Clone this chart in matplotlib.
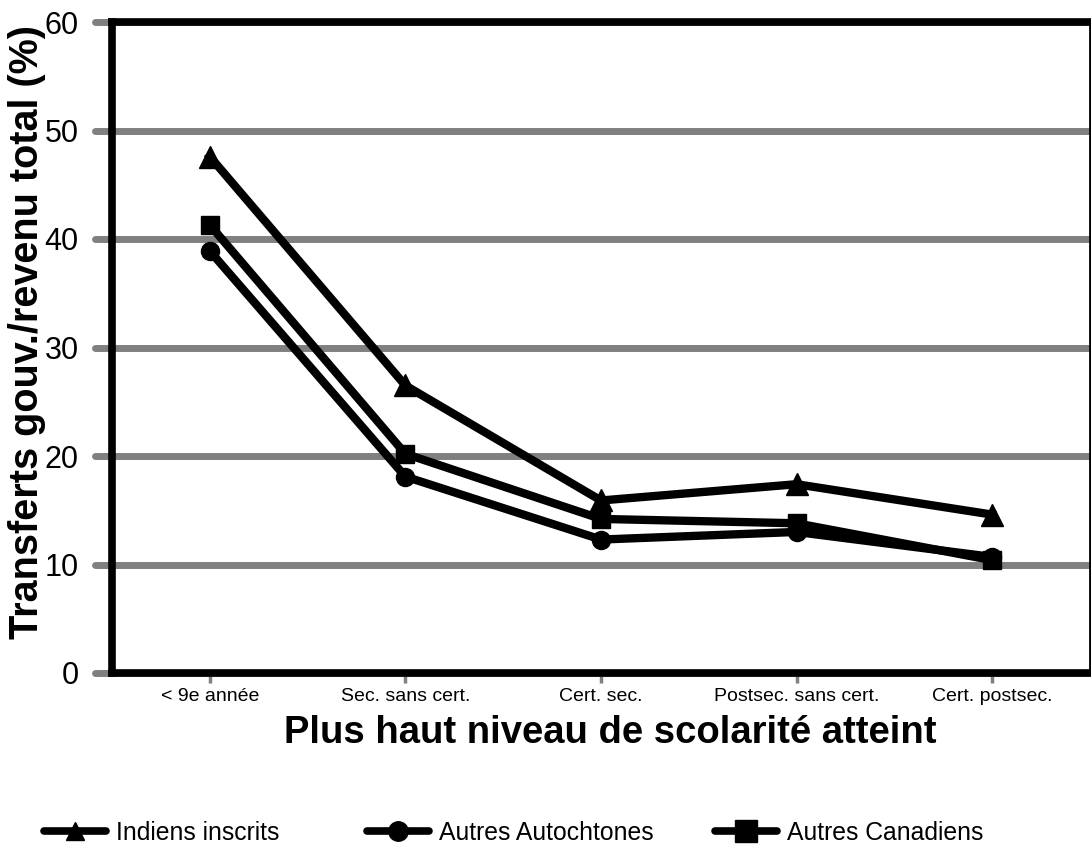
import matplotlib.pyplot as plt
from matplotlib.lines import Line2D

plt.rcParams['font.family'] = ['Liberation Sans', 'DejaVu Sans']

categories = ['< 9e année', 'Sec. sans cert.', 'Cert. sec.', 'Postsec. sans cert.', 'Cert. postsec.']
indiens = [47.6, 26.5, 15.9, 17.4, 14.6]
autochtones = [38.9, 18.1, 12.3, 13.0, 10.7]
canadiens = [41.3, 20.2, 14.2, 13.8, 10.4]
series_names = ['Indiens inscrits', 'Autres Autochtones', 'Autres Canadiens']
yticks = [0, 10, 20, 30, 40, 50, 60]

fig = plt.figure(figsize=(10.91, 8.48), dpi=100)
ax = fig.add_axes([112 / 1091, 1 - 673 / 848, 1 - 112 / 1091 - 0.001, (673 - 22) / 848])

x = list(range(len(categories)))

# gray gridlines that stick out past the left spine
for yv in yticks:
    ax.axhline(yv, xmin=-0.0175, xmax=1, color='#808080', lw=5, solid_capstyle='round',
               clip_on=False, zorder=1)

lw = 6
ax.plot(x, indiens, color='black', lw=lw, marker='^', ms=16, zorder=3)
ax.plot(x, autochtones, color='black', lw=lw, marker='o', ms=13, zorder=3)
ax.plot(x, canadiens, color='black', lw=lw, marker='s', ms=13, zorder=3)

ax.set_xlim(-0.5, 4.5)
ax.set_ylim(0, 60)
ax.set_yticks(yticks)
ax.set_xticks(x)
ax.set_xticklabels(categories, fontsize=14)
ax.tick_params(axis='y', length=0, pad=24, labelsize=22)
ax.tick_params(axis='x', length=7, width=2.5, color='#808080', pad=4)

for s in ['left', 'bottom', 'top', 'right']:
    ax.spines[s].set_linewidth(5.5)
    ax.spines[s].set_zorder(2)
ax.spines['right'].set_linewidth(2)

fig.text(27 / 1091, 1 - 332 / 848, 'Transferts gouv./revenu total (%)', rotation=90,
         ha='center', va='center', fontsize=28.5, fontweight='bold')
fig.text(610 / 1091, 1 - 733 / 848, 'Plus haut niveau de scolarité atteint',
         ha='center', va='center', fontsize=27.5, fontweight='bold')

markers = ['^', 'o', 's']
sizes = [13, 14, 16]
xpos = [44, 367, 715]
for name, m, ms, xp in zip(series_names, markers, sizes, xpos):
    h = Line2D([], [], color='black', lw=5.5, marker=m, ms=ms, solid_capstyle='round')
    fig.legend([h], [name], loc='center left', bbox_to_anchor=(xp / 1091, 1 - 833 / 848),
               frameon=False, fontsize=17.8, handlelength=2.5, handletextpad=0.4,
               borderaxespad=0, borderpad=0)

fig.savefig('out.png', dpi=100)
